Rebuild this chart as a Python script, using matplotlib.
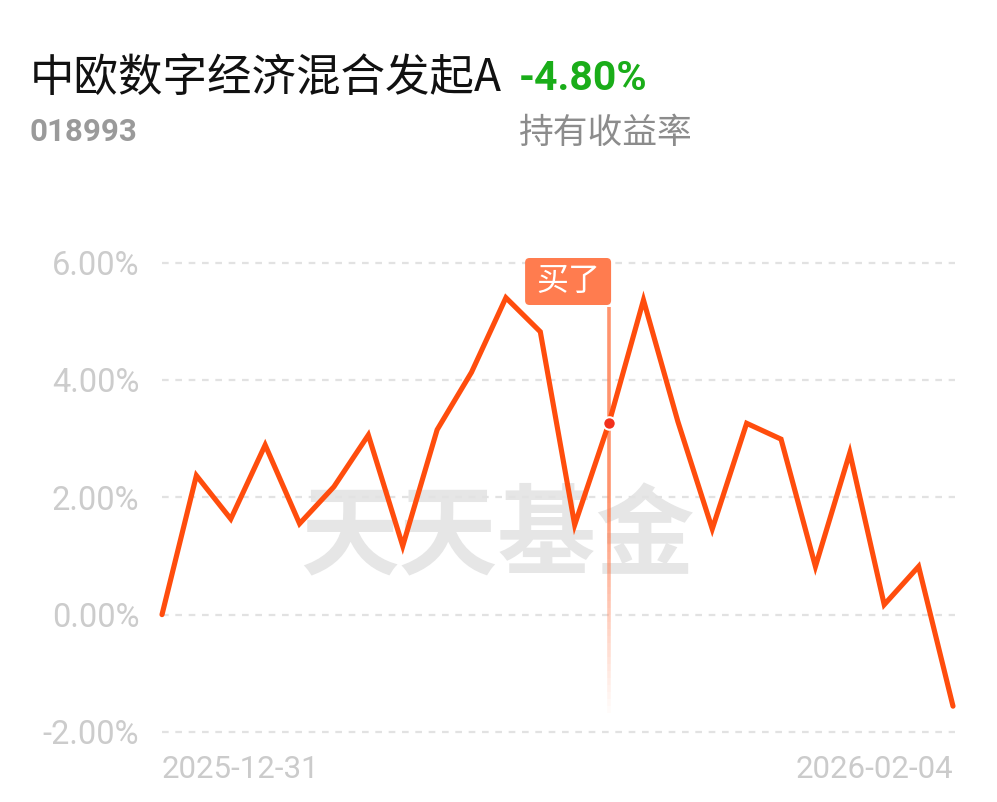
import numpy as np
import matplotlib.pyplot as plt
from matplotlib.patches import FancyBboxPatch
from matplotlib.collections import LineCollection

plt.rcParams['font.family'] = ['Noto Sans CJK SC', 'DejaVu Sans']

fund_name = '中欧数字经济混合发起A'
fund_code = '018993'
hold_return = '-4.80%'
hold_label = '持有收益率'
start_date = '2025-12-31'
end_date = '2026-02-04'

# holding return (%) per trading day
returns = [0.00, 2.37, 1.63, 2.89, 1.55, 2.18, 3.06, 1.17, 3.15, 4.13,
           5.40, 4.82, 1.53, 3.27, 5.36, 3.29, 1.46, 3.26, 2.99, 0.82,
           2.76, 0.17, 0.82, -1.56]
buy_index = 13
buy_label = '买了'
y_ticks = [6, 4, 2, 0, -2]
y_tick_labels = ['6.00%', '4.00%', '2.00%', '0.00%', '-2.00%']

W, H = 997, 802
fig = plt.figure(figsize=(W / 100, H / 100), dpi=100)

# pixel layout of the plot area
x0_px, x1_px = 162, 953
y6_px, ym2_px = 262.5, 732
n = len(returns)
px_x = (x1_px - x0_px) / (n - 1)
px_y = (ym2_px - y6_px) / 8
xlim = (-0.5, n - 0.5)
ylim = (-2.5, 6.5)
left_px = x0_px + xlim[0] * px_x
right_px = x0_px + xlim[1] * px_x
top_px = y6_px - (ylim[1] - 6) * px_y
bot_px = ym2_px + (-2 - ylim[0]) * px_y
ax = fig.add_axes([left_px / W, 1 - bot_px / H,
                   (right_px - left_px) / W, (bot_px - top_px) / H])
ax.set_xlim(*xlim)
ax.set_ylim(*ylim)
for s in ax.spines.values():
    s.set_visible(False)
ax.set_xticks([])
ax.set_yticks(y_ticks)
ax.set_yticklabels(y_tick_labels, family='Roboto', fontsize=23.5, color='#cccccc')
ax.tick_params(axis='y', length=0, pad=4)

x = np.arange(n)

# dashed grid lines
ax.hlines(y_ticks, 0, n - 0.95, colors='#e2e2e2', linewidth=1.6,
          linestyles=(0, (3, 3)), zorder=1)

# watermark
ax.text(9.75, 1.3, '天天基金', fontsize=71, fontweight='bold', color='#e6e6e6',
        ha='center', va='center', zorder=0.5)

# vertical marker line fading out
seg_y = np.linspace(5.25, -1.8, 60)
segs = [[(buy_index, seg_y[i]), (buy_index, seg_y[i + 1])] for i in range(len(seg_y) - 1)]
alphas = np.clip(np.linspace(1.6, 0.0, len(segs)), 0, 0.85)
cols = [(1.0, 0.50, 0.33, a) for a in alphas]
ax.add_collection(LineCollection(segs, colors=cols, linewidths=2.6, zorder=2))

# main line
ax.plot(x, returns, color='#ff4d0d', linewidth=3.7, solid_joinstyle='miter',
        solid_capstyle='round', zorder=3)
ax.plot(buy_index, returns[buy_index], 'o', markersize=9, color='#f2301c',
        markeredgecolor='white', markeredgewidth=1.5, zorder=4)

# "买了" tag
bx0 = buy_index - (608 - 524) / px_x
bx1 = buy_index + 2 / px_x
by1 = 6 + (y6_px - 258) / px_y
by0 = 6 - (305 - y6_px) / px_y
tag = FancyBboxPatch((bx0, by0), bx1 - bx0, by1 - by0,
                     boxstyle='round,pad=0,rounding_size=0.13',
                     mutation_aspect=px_x / px_y,
                     facecolor='#ff7c4f', edgecolor='none', zorder=4)
ax.add_patch(tag)
ax.text((bx0 + bx1) / 2, (by0 + by1) / 2, buy_label, fontsize=23, color='white',
        ha='center', va='center', zorder=5)

# date labels
date_y = -(769 - bot_px) / (bot_px - top_px)
tr = ax.get_xaxis_transform()
ax.text(0, date_y, start_date, transform=tr, family='Roboto', fontsize=22.5,
        color='#cbcbcb', ha='left', va='center')
ax.text(n - 1, date_y, end_date, transform=tr, family='Roboto', fontsize=22.5,
        color='#cbcbcb', ha='right', va='center')

# header
fig.text(30 / W, 1 - 79 / H, fund_name, fontsize=32, color='#111111',
         ha='left', va='center')
fig.text(519 / W, 1 - 79 / H, hold_return, family='Roboto', fontsize=29.5,
         fontweight='bold', color='#1aad19', ha='left', va='center')
fig.text(29 / W, 1 - 132 / H, fund_code, family='Roboto', fontsize=22.5,
         fontweight='bold', color='#9a9a9a', ha='left', va='center')
fig.text(519 / W, 1 - 134 / H, hold_label, fontsize=25, color='#8c8c8c',
         ha='left', va='center')

fig.savefig('out.png', dpi=100, facecolor='white')
